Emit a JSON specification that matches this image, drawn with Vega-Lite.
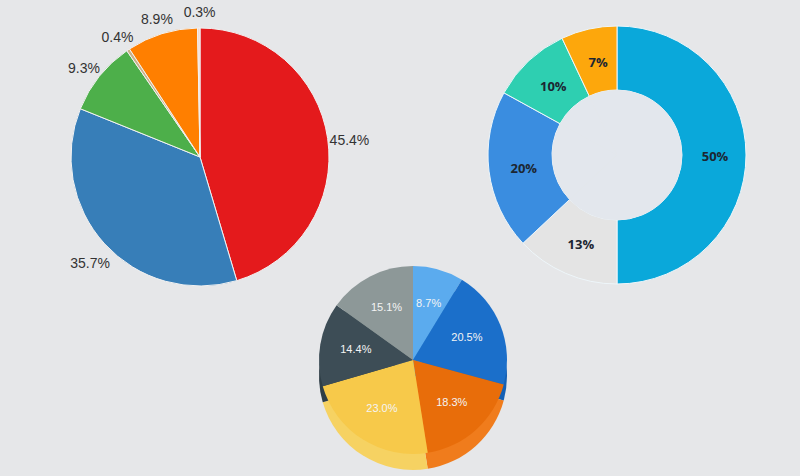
{
  "$schema": "https://vega.github.io/schema/vega-lite/v6.json",
  "autosize": {"type": "fit", "contains": "padding"},
  "width": 800,
  "height": 476,
  "padding": 0,
  "background": "#e6e7e9",
  "config": {"view": {"stroke": null}},
  "datasets": {
    "pie1": [
      {"k": 1, "name": "A", "pct": 0.454},
      {"k": 2, "name": "B", "pct": 0.357},
      {"k": 3, "name": "C", "pct": 0.093},
      {"k": 4, "name": "D", "pct": 0.004},
      {"k": 5, "name": "E", "pct": 0.089},
      {"k": 6, "name": "F", "pct": 0.003}
    ],
    "donut": [
      {"k": 1, "name": "A", "pct": 0.50},
      {"k": 2, "name": "B", "pct": 0.13},
      {"k": 3, "name": "C", "pct": 0.20},
      {"k": 4, "name": "D", "pct": 0.10},
      {"k": 5, "name": "E", "pct": 0.07}
    ],
    "pie3d": [
      {"k": 1, "name": "A", "pct": 0.087},
      {"k": 2, "name": "B", "pct": 0.205},
      {"k": 3, "name": "C", "pct": 0.183},
      {"k": 4, "name": "D", "pct": 0.230},
      {"k": 5, "name": "E", "pct": 0.144},
      {"k": 6, "name": "F", "pct": 0.151}
    ]
  },
  "layer": [
    {
      "data": {"name": "pie1"},
      "mark": {"type": "arc", "x": 200, "y": 157, "outerRadius": 129, "stroke": "#f2f2f2", "strokeWidth": 1},
      "encoding": {
        "theta": {"field": "pct", "type": "quantitative", "stack": true},
        "order": {"field": "k", "type": "quantitative"},
        "color": {"field": "name", "type": "nominal", "legend": null,
          "scale": {"domain": ["A", "B", "C", "D", "E", "F"], "range": ["#e41a1c", "#377eb8", "#4daf4a", "#c9b08a", "#ff7f00", "#f3d6cc"]}}
      }
    },
    {
      "data": {"name": "pie1"},
      "mark": {"type": "text", "x": 201, "y": 163, "radius": 150, "fontSize": 14, "font": "Liberation Sans", "fill": "#333333"},
      "encoding": {
        "theta": {"field": "pct", "type": "quantitative", "stack": true},
        "order": {"field": "k", "type": "quantitative"},
        "text": {"field": "pct", "type": "quantitative", "format": ".1%"}
      }
    },
    {
      "data": {"name": "donut"},
      "mark": {"type": "arc", "x": 617, "y": 155, "outerRadius": 129, "innerRadius": 65, "stroke": "#eef6fa", "strokeWidth": 1},
      "encoding": {
        "theta": {"field": "pct", "type": "quantitative", "stack": true},
        "order": {"field": "k", "type": "quantitative"},
        "color": {"field": "name", "type": "nominal", "legend": null,
          "scale": {"domain": ["A", "B", "C", "D", "E"], "range": ["#0aa8da", "#e4e4e4", "#3a8de0", "#2ecfb1", "#fda70c"]}}
      }
    },
    {
      "data": {"name": "donut"},
      "mark": {"type": "arc", "x": 617, "y": 155, "outerRadius": 65, "fill": "#e3e7ed", "stroke": null},
      "encoding": {
        "theta": {"field": "pct", "type": "quantitative", "stack": true},
        "order": {"field": "k", "type": "quantitative"}
      }
    },
    {
      "data": {"name": "donut"},
      "mark": {"type": "text", "x": 619, "y": 157, "radius": 96, "fontSize": 13, "fontWeight": "bold", "font": "Open Sans", "fill": "#1c2632"},
      "encoding": {
        "theta": {"field": "pct", "type": "quantitative", "stack": true},
        "order": {"field": "k", "type": "quantitative"},
        "text": {"field": "pct", "type": "quantitative", "format": ".0%"}
      }
    },
    {
      "data": {"name": "pie3d"},
      "mark": {"type": "arc", "x": 413, "y": 376, "outerRadius": 94},
      "encoding": {
        "theta": {"field": "pct", "type": "quantitative", "stack": true},
        "order": {"field": "k", "type": "quantitative"},
        "color": {"field": "name", "type": "nominal", "legend": null,
          "scale": {"domain": ["A", "B", "C", "D", "E", "F"], "range": ["#4a94d6", "#1560b4", "#f07c1c", "#f6d262", "#2f3e46", "#798585"]}}
      }
    },
    {
      "data": {"name": "pie3d"},
      "mark": {"type": "arc", "x": 413, "y": 360, "outerRadius": 94},
      "encoding": {
        "theta": {"field": "pct", "type": "quantitative", "stack": true},
        "order": {"field": "k", "type": "quantitative"},
        "color": {"field": "name", "type": "nominal", "legend": null,
          "scale": {"domain": ["A", "B", "C", "D", "E", "F"], "range": ["#5babee", "#1b6fca", "#e86d0a", "#f7c94a", "#3d4d56", "#8d9898"]}}
      }
    },
    {
      "data": {"name": "pie3d"},
      "mark": {"type": "text", "x": 413, "y": 360, "radius": 58, "fontSize": 11, "font": "Liberation Sans", "fill": "#f4f4f4"},
      "encoding": {
        "theta": {"field": "pct", "type": "quantitative", "stack": true},
        "order": {"field": "k", "type": "quantitative"},
        "text": {"field": "pct", "type": "quantitative", "format": ".1%"}
      }
    }
  ],
  "resolve": {"scale": {"color": "independent", "theta": "independent"}}
}
